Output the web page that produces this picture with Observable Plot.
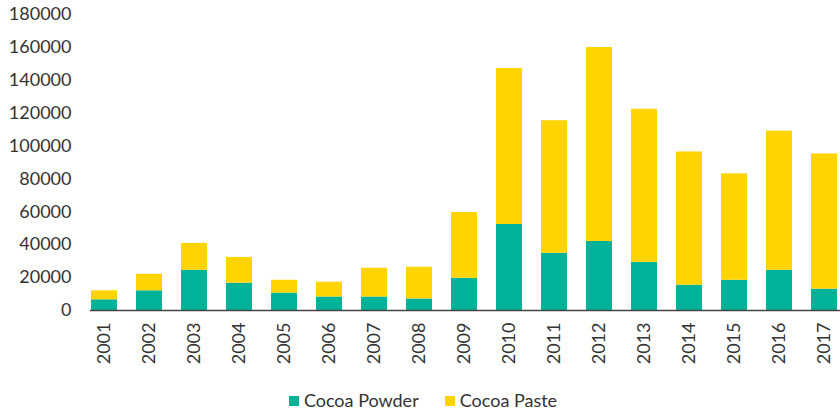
<!DOCTYPE html>
<html>
<head>
<meta charset="utf-8">
<script src="https://cdn.jsdelivr.net/npm/d3@7"></script>
<script src="https://cdn.jsdelivr.net/npm/@observablehq/plot@0.6"></script>
<style>
  body { margin: 0; background: #fff; font-family: Lato, sans-serif; }
  #legend { display: flex; justify-content: center; gap: 26px; font-size: 18px; color: #333; height: 40px; align-items: center; margin-left: 6px; }
  #legend span.sw { display: inline-block; width: 10px; height: 10px; margin-right: 5px; vertical-align: middle; position: relative; top: -1px; }
</style>
</head>
<body>
<div id="chart"></div>
<div id="legend"></div>
<script>
const years = ["2001","2002","2003","2004","2005","2006","2007","2008","2009","2010","2011","2012","2013","2014","2015","2016","2017"];
const powder = [6500, 12000, 24500, 16600, 10600, 8200, 8200, 7000, 19600, 52300, 34800, 42000, 29300, 15400, 18400, 24500, 13000];
const totals = [12000, 22000, 40800, 32300, 18400, 17200, 25700, 26300, 59600, 147200, 115400, 159900, 122400, 96400, 83100, 109100, 95200];
const paste = totals.map((t, i) => t - powder[i]);
const seriesNames = ["Cocoa Powder", "Cocoa Paste"];
const seriesColors = ["#00B398", "#FFD400"];
const yTicks = [0, 20000, 40000, 60000, 80000, 100000, 120000, 140000, 160000, 180000];

const data = [];
years.forEach((y, i) => {
  data.push({year: y, series: seriesNames[0], value: powder[i]});
  data.push({year: y, series: seriesNames[1], value: paste[i]});
});

const chart = Plot.plot({
  width: 840,
  height: 380,
  marginLeft: 90,
  marginRight: 0,
  marginTop: 14,
  marginBottom: 70,
  style: {fontFamily: "Lato, sans-serif", fontSize: "18px", color: "#333"},
  x: {domain: years, range: [71, 857], padding: 0.42, label: null, tickSize: 0, tickPadding: 12, tickRotate: -90},
  y: {domain: [0, 180000], ticks: yTicks, label: null, tickSize: 0, tickPadding: 19, tickFormat: d => String(d)},
  color: {domain: seriesNames, range: seriesColors},
  marks: [
    Plot.barY(data, Plot.stackY({x: "year", y: "value", fill: "series", order: seriesNames})),
    Plot.ruleY([0], {stroke: "#444", strokeWidth: 1.5})
  ]
});
document.getElementById("chart").appendChild(chart);

const legend = document.getElementById("legend");
seriesNames.forEach((n, i) => {
  const item = document.createElement("div");
  item.innerHTML = `<span class="sw" style="background:${seriesColors[i]}"></span>${n}`;
  legend.appendChild(item);
});
</script>
</body>
</html>
